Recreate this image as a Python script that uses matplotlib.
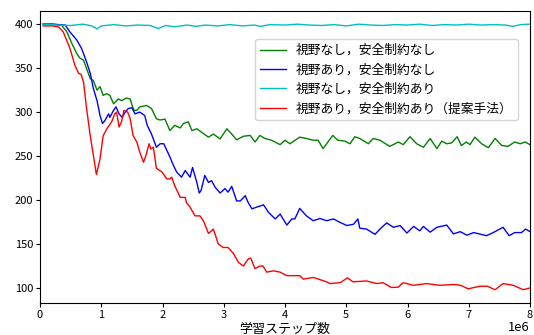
import numpy as np
import matplotlib
matplotlib.use("Agg")
import matplotlib.pyplot as plt

plt.rcParams['font.family'] = ['Noto Sans CJK JP', 'DejaVu Sans']

# step values in units of 1e6
green_x = [0.05, 0.2, 0.35, 0.44, 0.52, 0.60, 0.65, 0.71, 0.76, 0.82, 0.87, 0.93, 0.98, 1.03, 1.09,
           1.14, 1.20, 1.28, 1.33, 1.41, 1.47, 1.53, 1.58, 1.63, 1.74, 1.82, 1.90, 1.96, 2.04, 2.12,
           2.20, 2.29, 2.34, 2.42, 2.48, 2.56, 2.64, 2.75, 2.83, 2.94, 3.05, 3.13, 3.21, 3.32, 3.43,
           3.51, 3.59, 3.67, 3.78, 3.92, 4.0, 4.08, 4.24, 4.35, 4.46, 4.54, 4.62, 4.68, 4.78, 4.86,
           4.98, 5.06, 5.14, 5.22, 5.36, 5.44, 5.55, 5.71, 5.85, 5.93, 6.04, 6.15, 6.26, 6.37, 6.48,
           6.56, 6.64, 6.72, 6.81, 6.88, 6.96, 7.02, 7.10, 7.21, 7.32, 7.43, 7.54, 7.64, 7.75, 7.84,
           7.92, 8.0]
green_y = [400, 400, 399, 391, 378, 366.5, 361.5, 359, 349.5, 338, 336, 325, 329, 319, 321,
           319, 309.5, 315, 313, 316, 315, 302, 302, 306, 307.5, 304, 292.5, 291, 292, 279,
           285, 282, 287, 289, 279, 281, 277, 271.5, 275, 269.5, 281, 275, 268.5, 272.5, 273.5,
           266, 273.5, 270, 268, 263, 268, 264, 271.5, 270, 268, 268, 258.5, 264, 273.5, 268,
           267, 264, 272, 270, 264, 270, 268, 261, 266, 263, 272, 264, 260, 270, 258.5,
           267, 264, 265, 272, 262, 266, 263, 271.5, 264, 259.5, 270, 262, 261, 266, 264,
           266, 263]

blue_x = [0.05, 0.2, 0.41, 0.49, 0.60, 0.68, 0.76, 0.82, 0.87, 0.93, 0.98, 1.02, 1.06, 1.12, 1.14,
          1.20, 1.24, 1.29, 1.34, 1.39, 1.44, 1.50, 1.55, 1.63, 1.71, 1.75, 1.82, 1.90, 1.96, 2.02,
          2.12, 2.18, 2.23, 2.31, 2.37, 2.45, 2.49, 2.56, 2.60, 2.63, 2.69, 2.75, 2.80, 2.86, 2.94,
          3.02, 3.07, 3.13, 3.21, 3.27, 3.35, 3.40, 3.46, 3.54, 3.65, 3.73, 3.84, 3.92, 4.03, 4.11,
          4.16, 4.24, 4.35, 4.46, 4.57, 4.68, 4.79, 4.90, 5.01, 5.12, 5.19, 5.22, 5.33, 5.47, 5.55,
          5.66, 5.77, 5.88, 5.99, 6.10, 6.20, 6.26, 6.37, 6.48, 6.64, 6.75, 6.86, 6.97, 7.08, 7.29,
          7.40, 7.56, 7.66, 7.75, 7.86, 7.93, 8.0]
blue_y = [400, 400, 399, 391, 382, 372, 357, 344, 327, 313, 296, 287, 290.5, 298, 294,
          302, 306, 298, 294, 300, 304, 305, 298, 300, 296, 285, 275, 260, 264, 264,
          249, 239, 232, 226, 233.5, 226, 237, 220, 208, 211, 228, 220, 222, 214.5, 208,
          213, 209, 215.5, 199, 199, 205, 197, 190, 192, 194.5, 186, 178.5, 184, 171.5, 178.5,
          178.5, 190.5, 182, 176.5, 179, 176.5, 178.5, 174.5, 171, 172.5, 178.5, 168, 167, 161, 167,
          174, 169, 171, 162.5, 170, 165, 170, 163.5, 169, 171.5, 161.5, 164, 160, 163, 159.5,
          163, 169, 159.5, 163, 163, 167, 164]

cyan_x = [0.05, 0.3, 0.5, 0.7, 0.85, 0.93, 1.0, 1.2, 1.4, 1.6, 1.8, 1.93, 2.05, 2.2, 2.4,
          2.55, 2.7, 2.9, 3.1, 3.3, 3.5, 3.6, 3.75, 4.0, 4.2, 4.4, 4.6, 4.8, 5.0, 5.2,
          5.4, 5.6, 5.8, 6.0, 6.2, 6.4, 6.6, 6.8, 7.0, 7.2, 7.4, 7.6, 7.72, 7.85, 8.0]
cyan_y = [400, 399, 398.5, 400, 398, 394.5, 398, 399.5, 398, 399, 398.5, 395, 398.5, 397, 399,
          397.5, 399, 398, 399.5, 398, 399, 397.5, 399.5, 399, 400, 399, 398.5, 399.5, 398, 400,
          399, 398.5, 399.5, 399, 400, 398.5, 399.5, 399, 400, 399, 399.5, 399, 397.5, 399.5, 400]

red_x = [0.05, 0.2, 0.3, 0.38, 0.49, 0.57, 0.63, 0.67, 0.71, 0.76, 0.82, 0.87, 0.92, 0.98, 1.03,
         1.09, 1.17, 1.22, 1.25, 1.29, 1.33, 1.37, 1.43, 1.47, 1.52, 1.58, 1.63, 1.69, 1.73, 1.78,
         1.81, 1.85, 1.90, 1.99, 2.07, 2.12, 2.15, 2.20, 2.29, 2.37, 2.39, 2.45, 2.53, 2.61, 2.67,
         2.75, 2.83, 2.91, 2.99, 3.07, 3.16, 3.24, 3.32, 3.40, 3.44, 3.51, 3.59, 3.64, 3.70, 3.81,
         3.92, 4.03, 4.24, 4.30, 4.46, 4.68, 4.73, 4.90, 5.02, 5.11, 5.33, 5.50, 5.60, 5.74, 5.85,
         5.93, 6.10, 6.31, 6.53, 6.75, 6.87, 6.99, 7.18, 7.30, 7.43, 7.56, 7.73, 7.89, 8.0]
red_y = [398, 398, 397, 391, 372, 353, 344, 343, 334, 304, 273, 251, 229, 247, 273,
         281, 289, 298, 300, 283, 289, 302, 300, 293, 273, 266, 254, 243, 251, 264,
         258, 260, 236, 232, 224, 224, 226, 216, 203, 203, 197, 192, 182, 182, 176,
         162, 167, 150, 146, 146, 139, 129, 125, 133, 134, 122, 125, 125, 118, 119.5,
         118, 114, 114, 110, 112, 107, 105, 106, 111.5, 107, 108, 105, 106, 100.5, 101,
         106, 103, 105, 103, 104, 103, 99, 102, 102, 98, 105, 103, 98, 100]

labels = ["視野なし，安全制約なし", "視野あり，安全制約なし",
          "視野なし，安全制約あり", "視野あり，安全制約あり（提案手法）"]

fig = plt.figure(figsize=(5.34, 3.35), dpi=100)
ax = fig.add_axes([0.075, 0.0955, 0.9175, 0.872])

series = [(green_x, green_y, "g"), (blue_x, blue_y, "b"),
          (cyan_x, cyan_y, "c"), (red_x, red_y, "r")]
for (xs, ys, col), lab in zip(series, labels):
    ax.plot(np.array(xs) * 1e6, ys, color=col, linewidth=1.0, label=lab)

ax.set_xlim(0, 8e6)
ax.set_xlabel("学習ステップ数", fontsize=9.4, labelpad=2)
ax.tick_params(labelsize=8, length=3, pad=2)

# scale factor drawn level with the x label so it stays inside the figure
ax.xaxis.get_offset_text().set_visible(False)
ax.text(1.0, -0.085, "1e6", transform=ax.transAxes, ha="right", va="center",
        fontsize=9.4)

ax.legend(loc="upper right", bbox_to_anchor=(0.9755, 0.904), fontsize=9.2,
          borderaxespad=0)

fig.savefig("out.png", dpi=100)
